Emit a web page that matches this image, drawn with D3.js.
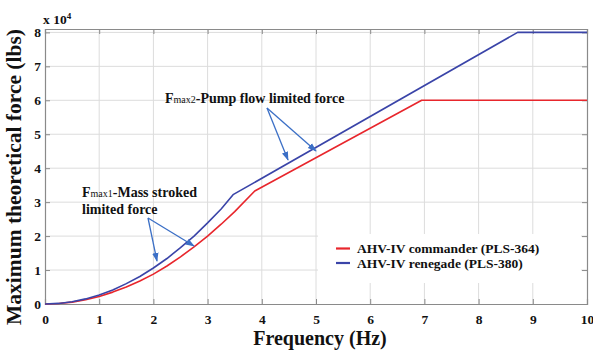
<!DOCTYPE html>
<html><head><meta charset="utf-8">
<script src="https://cdn.jsdelivr.net/npm/d3@7"></script>
<style>body{margin:0;background:#fff}svg{display:block}
svg text{font-family:"Liberation Serif","Times New Roman",Times,"DejaVu Serif",serif !important;font-weight:bold}</style>
</head><body><svg id="c" width="593" height="350"></svg>
<script>
// Data (force in units of 1e4 lbs)
const xTicks = [0,1,2,3,4,5,6,7,8,9,10];
const yTicks = [0,1,2,3,4,5,6,7,8];
const freqCommander = [0,0.25,0.5,0.75,1,1.25,1.5,1.75,2,2.25,2.5,2.75,3,3.25,3.5,3.87,6.95,10];
const forceCommander = [0,0.014,0.055,0.125,0.22,0.35,0.5,0.68,0.88,1.12,1.39,1.68,2.0,2.35,2.72,3.33,6.0,6.0];
const freqRenegade = [0,0.25,0.5,0.75,1,1.25,1.5,1.75,2,2.25,2.5,2.75,3,3.25,3.47,8.72,10];
const forceRenegade = [0,0.017,0.066,0.15,0.265,0.41,0.6,0.81,1.06,1.34,1.66,2.0,2.39,2.8,3.22,8.0,8.0];
const seriesNames = ["AHV-IV commander (PLS-364)","AHV-IV renegade (PLS-380)"];
const seriesColors = ["#e8262c","#3a44a8"];

const svg = d3.select("#c");
const L=45,R=587,T=29,B=304;
const x = d3.scaleLinear().domain([0,10]).range([L,R]);
const y = d3.scaleLinear().domain([0,8.1]).range([B,T]);
const FONT = '"Liberation Serif","Times New Roman",Times,"DejaVu Serif",serif';

// grid
const g = svg.append("g");
g.selectAll(".vg").data(xTicks.slice(1,-1)).join("line")
 .attr("x1",d=>x(d)).attr("x2",d=>x(d)).attr("y1",T).attr("y2",B)
 .attr("stroke","#dcdcdc").attr("stroke-width",1);
g.selectAll(".hg").data(yTicks.slice(1)).join("line")
 .attr("y1",d=>y(d)).attr("y2",d=>y(d)).attr("x1",L).attr("x2",R)
 .attr("stroke","#dcdcdc").attr("stroke-width",1);

// axes with inward ticks
const axColor="#8a8a8a";
const xa = svg.append("g").attr("transform",`translate(0,${B})`)
 .call(d3.axisBottom(x).tickValues(xTicks).tickSize(-5).tickPadding(10).tickFormat(d3.format("d")));
const xt = svg.append("g").attr("transform",`translate(0,${T})`)
 .call(d3.axisTop(x).tickValues(xTicks).tickSize(-5).tickFormat(""));
const ya = svg.append("g").attr("transform",`translate(${L},0)`)
 .call(d3.axisLeft(y).tickValues(yTicks).tickSize(-5).tickPadding(4).tickFormat(d3.format("d")));
const yr = svg.append("g").attr("transform",`translate(${R},0)`)
 .call(d3.axisRight(y).tickValues(yTicks).tickSize(-5).tickFormat(""));
[xa,xt,ya,yr].forEach(a=>{
  a.attr("font-family",FONT);
  a.selectAll("path").attr("stroke",axColor).attr("stroke-width",1.2);
  a.selectAll("line").attr("stroke",axColor);
  a.selectAll("text").attr("fill","#111").style("font-size","13.5px");
});

// legend box (white, covers grid)
svg.append("rect").attr("x",318).attr("y",234).attr("width",263).attr("height",49).attr("fill","#fff");

// lines
const line = d3.line().x(d=>x(d[0])).y(d=>y(d[1]));
const dataC = freqCommander.map((f,i)=>[f,forceCommander[i]]);
const dataR = freqRenegade.map((f,i)=>[f,forceRenegade[i]]);
svg.append("path").datum(dataC).attr("d",line).attr("fill","none")
 .attr("stroke",seriesColors[0]).attr("stroke-width",1.6).attr("stroke-linejoin","round");
svg.append("path").datum(dataR).attr("d",line).attr("fill","none")
 .attr("stroke",seriesColors[1]).attr("stroke-width",1.6).attr("stroke-linejoin","round");

// legend
seriesNames.forEach((n,i)=>{
  const yy = 248.5 + i*14.5;
  svg.append("line").attr("x1",336).attr("x2",350).attr("y1",yy).attr("y2",yy)
   .attr("stroke",seriesColors[i]).attr("stroke-width",2.2);
  svg.append("text").attr("x",357).attr("y",yy+4.5).attr("fill","#111")
   .style("font-size","13.5px").text(n);
});

// arrows
const defs = svg.append("defs");
defs.append("marker").attr("id","ah").attr("viewBox","0 0 10 10").attr("refX",9).attr("refY",5)
 .attr("markerWidth",7).attr("markerHeight",7).attr("orient","auto")
 .append("path").attr("d","M0,1.5 L10,5 L0,8.5 Z").attr("fill","#3b6fc6");
const arrows = [
  [[267,108],[288,160]],[[267,108],[316,151]],
  [[148,218],[157,261]],[[148,218],[194,246]]
];
arrows.forEach(a=>{
  svg.append("line").attr("x1",a[0][0]).attr("y1",a[0][1]).attr("x2",a[1][0]).attr("y2",a[1][1])
   .attr("stroke","#3b6fc6").attr("stroke-width",1.3).attr("marker-end","url(#ah)");
});

// annotations
const t2 = svg.append("text").attr("x",165).attr("y",103).attr("fill","#111").style("font-size","14px");
t2.append("tspan").text("F");
t2.append("tspan").style("font-size","10px").style("font-weight","normal").text("max2");
t2.append("tspan").text("-Pump flow limited force");

const t1 = svg.append("text").attr("x",82).attr("y",196.5).attr("fill","#111").style("font-size","14px");
t1.append("tspan").text("F");
t1.append("tspan").style("font-size","10px").style("font-weight","normal").text("max1");
t1.append("tspan").text("-Mass stroked");
svg.append("text").attr("x",82).attr("y",214).attr("fill","#111").style("font-size","14px").text("limited force");

// exponent label
const ex = svg.append("text").attr("x",43).attr("y",24).attr("fill","#111").style("font-size","13.5px");
ex.append("tspan").text("x 10");
ex.append("tspan").attr("dy",-5).style("font-size","9px").text("4");

// axis titles
svg.append("text").attr("x",320).attr("y",345).attr("text-anchor","middle").attr("fill","#111")
 .style("font-size","20px").text("Frequency (Hz)");
svg.append("text").attr("transform","translate(21,177) rotate(-90)").attr("text-anchor","middle")
 .attr("fill","#111").style("font-size","21.5px").text("Maximum theoretical force (lbs)");
</script></body></html>
